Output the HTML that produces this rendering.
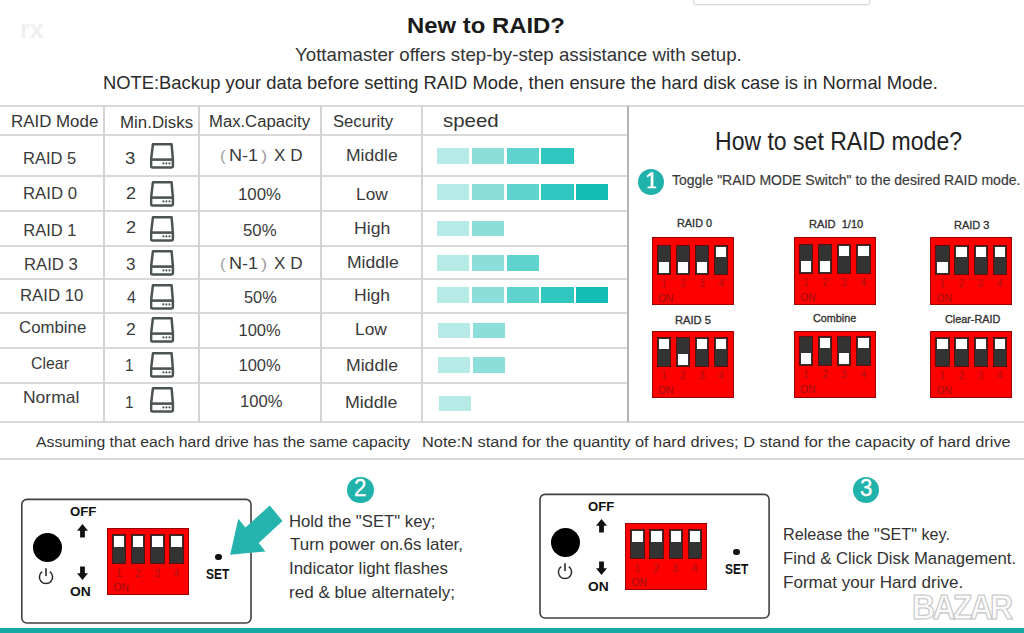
<!DOCTYPE html>
<html><head><meta charset="utf-8"><style>
html,body{margin:0;padding:0;background:#fff;}
body{width:1024px;height:633px;position:relative;overflow:hidden;font-family:"Liberation Sans",sans-serif;}
.a{position:absolute;}
.t{position:absolute;white-space:nowrap;line-height:1;transform-origin:0 0;}
.circ{position:absolute;border-radius:50%;background:#2bb5ad;color:#fff;text-align:center;font-family:"Liberation Sans",sans-serif;}
.dip{position:absolute;box-sizing:border-box;width:82.3px;height:67.6px;background:#ff0000;border:1px solid #9a0000;}
.sw{position:absolute;box-sizing:border-box;width:14.2px;height:30px;background:#333;border:1px solid #5a1010;margin-left:-1px;margin-top:-1px;}
.kn{position:absolute;left:1px;width:10.2px;height:10.6px;background:#fff;}
.kn.up{top:1px;}
.kn.dn{bottom:1px;}
.num{position:absolute;width:10px;text-align:center;font-size:10.3px;line-height:10px;color:#a51515;}
.on{position:absolute;left:5.5px;font-size:10.3px;line-height:10px;color:#9a1212;}
.box{position:absolute;width:227px;height:122px;border:1.5px solid #3a3a3a;border-radius:5px;}
</style></head><body>
<div class="a" style="left:693px;top:-20px;width:175px;height:23px;border:1px solid #d6d6d6;border-radius:3px;box-shadow:0 1px 1px rgba(0,0,0,0.06)"></div>
<div class="t" style="left:20px;top:16.5px;font-size:25px;font-weight:bold;color:#efefef">rx</div>
<div class="a" style="left:0px;top:105px;width:1024px;height:2px;background:#d9d9d9"></div>
<div class="a" style="left:0px;top:134px;width:627px;height:2px;background:#d9d9d9"></div>
<div class="a" style="left:0px;top:175px;width:627px;height:2px;background:#d9d9d9"></div>
<div class="a" style="left:0px;top:210px;width:627px;height:2px;background:#d9d9d9"></div>
<div class="a" style="left:0px;top:245px;width:627px;height:2px;background:#d9d9d9"></div>
<div class="a" style="left:0px;top:278px;width:627px;height:2px;background:#d9d9d9"></div>
<div class="a" style="left:0px;top:312px;width:627px;height:2px;background:#d9d9d9"></div>
<div class="a" style="left:0px;top:347px;width:627px;height:2px;background:#d9d9d9"></div>
<div class="a" style="left:0px;top:382px;width:627px;height:2px;background:#d9d9d9"></div>
<div class="a" style="left:0px;top:421px;width:1024px;height:2px;background:#d9d9d9"></div>
<div class="a" style="left:0px;top:458px;width:1024px;height:2px;background:#d9d9d9"></div>
<div class="a" style="left:103px;top:106px;width:2px;height:316px;background:#d4d4d4"></div>
<div class="a" style="left:198px;top:106px;width:2px;height:316px;background:#d4d4d4"></div>
<div class="a" style="left:320px;top:106px;width:2px;height:316px;background:#d4d4d4"></div>
<div class="a" style="left:421px;top:106px;width:2px;height:316px;background:#d4d4d4"></div>
<div class="a" style="left:627px;top:106px;width:2px;height:316px;background:#b4b4b4"></div>
<svg class="a" style="left:149.5px;top:143.25px" width="25" height="26" viewBox="0 0 25 26"><path d="M2.9 1.3H21.6L22.9 16.6V23.3Q22.9 24.5 21.7 24.5H2.3Q1.1 24.5 1.1 23.3V16.6Z" fill="none" stroke="#4c5453" stroke-width="2.5" stroke-linejoin="round"/><path d="M1.5 16.6H22.5" stroke="#4c5453" stroke-width="2.6"/><circle cx="13.4" cy="20.4" r="1.05" fill="#4c5453"/><circle cx="16.4" cy="20.4" r="1.05" fill="#4c5453"/><circle cx="19.5" cy="20.4" r="1.05" fill="#4c5453"/></svg>
<div class="a" style="left:437.00px;top:148.4px;width:32.3px;height:15.90px;background:#b5eae7"></div><div class="a" style="left:471.80px;top:148.4px;width:32.3px;height:15.90px;background:#8cdedb"></div><div class="a" style="left:506.60px;top:148.4px;width:32.3px;height:15.90px;background:#5fd3ce"></div><div class="a" style="left:541.40px;top:148.4px;width:32.3px;height:15.90px;background:#30c7c1"></div>
<svg class="a" style="left:149.5px;top:180.75px" width="25" height="26" viewBox="0 0 25 26"><path d="M2.9 1.3H21.6L22.9 16.6V23.3Q22.9 24.5 21.7 24.5H2.3Q1.1 24.5 1.1 23.3V16.6Z" fill="none" stroke="#4c5453" stroke-width="2.5" stroke-linejoin="round"/><path d="M1.5 16.6H22.5" stroke="#4c5453" stroke-width="2.6"/><circle cx="13.4" cy="20.4" r="1.05" fill="#4c5453"/><circle cx="16.4" cy="20.4" r="1.05" fill="#4c5453"/><circle cx="19.5" cy="20.4" r="1.05" fill="#4c5453"/></svg>
<div class="a" style="left:437.00px;top:184.4px;width:32.3px;height:15.80px;background:#b5eae7"></div><div class="a" style="left:471.80px;top:184.4px;width:32.3px;height:15.80px;background:#8cdedb"></div><div class="a" style="left:506.60px;top:184.4px;width:32.3px;height:15.80px;background:#5fd3ce"></div><div class="a" style="left:541.40px;top:184.4px;width:32.3px;height:15.80px;background:#30c7c1"></div><div class="a" style="left:576.20px;top:184.4px;width:32.3px;height:15.80px;background:#13bdb6"></div>
<svg class="a" style="left:149.5px;top:215.75px" width="25" height="26" viewBox="0 0 25 26"><path d="M2.9 1.3H21.6L22.9 16.6V23.3Q22.9 24.5 21.7 24.5H2.3Q1.1 24.5 1.1 23.3V16.6Z" fill="none" stroke="#4c5453" stroke-width="2.5" stroke-linejoin="round"/><path d="M1.5 16.6H22.5" stroke="#4c5453" stroke-width="2.6"/><circle cx="13.4" cy="20.4" r="1.05" fill="#4c5453"/><circle cx="16.4" cy="20.4" r="1.05" fill="#4c5453"/><circle cx="19.5" cy="20.4" r="1.05" fill="#4c5453"/></svg>
<div class="a" style="left:437.00px;top:220.6px;width:32.3px;height:15.40px;background:#b5eae7"></div><div class="a" style="left:471.80px;top:220.6px;width:32.3px;height:15.40px;background:#8cdedb"></div>
<svg class="a" style="left:149.5px;top:249.5px" width="25" height="26" viewBox="0 0 25 26"><path d="M2.9 1.3H21.6L22.9 16.6V23.3Q22.9 24.5 21.7 24.5H2.3Q1.1 24.5 1.1 23.3V16.6Z" fill="none" stroke="#4c5453" stroke-width="2.5" stroke-linejoin="round"/><path d="M1.5 16.6H22.5" stroke="#4c5453" stroke-width="2.6"/><circle cx="13.4" cy="20.4" r="1.05" fill="#4c5453"/><circle cx="16.4" cy="20.4" r="1.05" fill="#4c5453"/><circle cx="19.5" cy="20.4" r="1.05" fill="#4c5453"/></svg>
<div class="a" style="left:437.00px;top:255px;width:32.3px;height:16.00px;background:#b5eae7"></div><div class="a" style="left:471.80px;top:255px;width:32.3px;height:16.00px;background:#8cdedb"></div><div class="a" style="left:506.60px;top:255px;width:32.3px;height:16.00px;background:#5fd3ce"></div>
<svg class="a" style="left:149.5px;top:283.5px" width="25" height="26" viewBox="0 0 25 26"><path d="M2.9 1.3H21.6L22.9 16.6V23.3Q22.9 24.5 21.7 24.5H2.3Q1.1 24.5 1.1 23.3V16.6Z" fill="none" stroke="#4c5453" stroke-width="2.5" stroke-linejoin="round"/><path d="M1.5 16.6H22.5" stroke="#4c5453" stroke-width="2.6"/><circle cx="13.4" cy="20.4" r="1.05" fill="#4c5453"/><circle cx="16.4" cy="20.4" r="1.05" fill="#4c5453"/><circle cx="19.5" cy="20.4" r="1.05" fill="#4c5453"/></svg>
<div class="a" style="left:437.00px;top:287.2px;width:32.3px;height:15.50px;background:#b5eae7"></div><div class="a" style="left:471.80px;top:287.2px;width:32.3px;height:15.50px;background:#8cdedb"></div><div class="a" style="left:506.60px;top:287.2px;width:32.3px;height:15.50px;background:#5fd3ce"></div><div class="a" style="left:541.40px;top:287.2px;width:32.3px;height:15.50px;background:#30c7c1"></div><div class="a" style="left:576.20px;top:287.2px;width:32.3px;height:15.50px;background:#13bdb6"></div>
<svg class="a" style="left:149.5px;top:317.0px" width="25" height="26" viewBox="0 0 25 26"><path d="M2.9 1.3H21.6L22.9 16.6V23.3Q22.9 24.5 21.7 24.5H2.3Q1.1 24.5 1.1 23.3V16.6Z" fill="none" stroke="#4c5453" stroke-width="2.5" stroke-linejoin="round"/><path d="M1.5 16.6H22.5" stroke="#4c5453" stroke-width="2.6"/><circle cx="13.4" cy="20.4" r="1.05" fill="#4c5453"/><circle cx="16.4" cy="20.4" r="1.05" fill="#4c5453"/><circle cx="19.5" cy="20.4" r="1.05" fill="#4c5453"/></svg>
<div class="a" style="left:438.00px;top:322.6px;width:32.3px;height:15.90px;background:#b5eae7"></div><div class="a" style="left:472.80px;top:322.6px;width:32.3px;height:15.90px;background:#8cdedb"></div>
<svg class="a" style="left:149.5px;top:351.5px" width="25" height="26" viewBox="0 0 25 26"><path d="M2.9 1.3H21.6L22.9 16.6V23.3Q22.9 24.5 21.7 24.5H2.3Q1.1 24.5 1.1 23.3V16.6Z" fill="none" stroke="#4c5453" stroke-width="2.5" stroke-linejoin="round"/><path d="M1.5 16.6H22.5" stroke="#4c5453" stroke-width="2.6"/><circle cx="13.4" cy="20.4" r="1.05" fill="#4c5453"/><circle cx="16.4" cy="20.4" r="1.05" fill="#4c5453"/><circle cx="19.5" cy="20.4" r="1.05" fill="#4c5453"/></svg>
<div class="a" style="left:438.00px;top:357.3px;width:32.3px;height:15.70px;background:#b5eae7"></div><div class="a" style="left:472.80px;top:357.3px;width:32.3px;height:15.70px;background:#8cdedb"></div>
<svg class="a" style="left:149.5px;top:386.5px" width="25" height="26" viewBox="0 0 25 26"><path d="M2.9 1.3H21.6L22.9 16.6V23.3Q22.9 24.5 21.7 24.5H2.3Q1.1 24.5 1.1 23.3V16.6Z" fill="none" stroke="#4c5453" stroke-width="2.5" stroke-linejoin="round"/><path d="M1.5 16.6H22.5" stroke="#4c5453" stroke-width="2.6"/><circle cx="13.4" cy="20.4" r="1.05" fill="#4c5453"/><circle cx="16.4" cy="20.4" r="1.05" fill="#4c5453"/><circle cx="19.5" cy="20.4" r="1.05" fill="#4c5453"/></svg>
<div class="a" style="left:439.00px;top:395.6px;width:32.3px;height:15.50px;background:#b5eae7"></div>
<div class="a" style="left:637.85px;top:168.85px;width:26.3px;height:26.3px;border-radius:50%;background:#22b2ac"></div>
<div class="a" style="left:347.25px;top:476.85px;width:26.5px;height:26.5px;border-radius:50%;background:#22b2ac"></div>
<div class="a" style="left:853.30px;top:477.00px;width:26px;height:26px;border-radius:50%;background:#22b2ac"></div>
<div class="dip" style="left:651.60px;top:237.30px"><div class="sw" style="left:5.30px;top:7.50px"><div class="kn dn"></div></div><div class="num" style="left:6.20px;top:41.10px">1</div><div class="sw" style="left:24.40px;top:7.50px"><div class="kn dn"></div></div><div class="num" style="left:25.30px;top:41.10px">2</div><div class="sw" style="left:43.50px;top:7.50px"><div class="kn dn"></div></div><div class="num" style="left:44.40px;top:41.10px">3</div><div class="sw" style="left:62.60px;top:7.50px"><div class="kn up"></div></div><div class="num" style="left:63.50px;top:41.10px">4</div><div class="on" style="top:55.70px">ON</div></div>
<div class="dip" style="left:793.80px;top:237.30px"><div class="sw" style="left:5.30px;top:6.50px"><div class="kn dn"></div></div><div class="num" style="left:6.20px;top:40.10px">1</div><div class="sw" style="left:24.40px;top:6.50px"><div class="kn dn"></div></div><div class="num" style="left:25.30px;top:40.10px">2</div><div class="sw" style="left:43.50px;top:6.50px"><div class="kn up"></div></div><div class="num" style="left:44.40px;top:40.10px">3</div><div class="sw" style="left:62.60px;top:6.50px"><div class="kn up"></div></div><div class="num" style="left:63.50px;top:40.10px">4</div><div class="on" style="top:54.70px">ON</div></div>
<div class="dip" style="left:930.10px;top:237.30px"><div class="sw" style="left:5.30px;top:7.50px"><div class="kn dn"></div></div><div class="num" style="left:6.20px;top:41.10px">1</div><div class="sw" style="left:24.40px;top:7.50px"><div class="kn up"></div></div><div class="num" style="left:25.30px;top:41.10px">2</div><div class="sw" style="left:43.50px;top:7.50px"><div class="kn up"></div></div><div class="num" style="left:44.40px;top:41.10px">3</div><div class="sw" style="left:62.60px;top:7.50px"><div class="kn up"></div></div><div class="num" style="left:63.50px;top:41.10px">4</div><div class="on" style="top:55.70px">ON</div></div>
<div class="dip" style="left:651.60px;top:330.70px"><div class="sw" style="left:5.30px;top:6.20px"><div class="kn up"></div></div><div class="num" style="left:6.20px;top:39.80px">1</div><div class="sw" style="left:24.40px;top:6.20px"><div class="kn dn"></div></div><div class="num" style="left:25.30px;top:39.80px">2</div><div class="sw" style="left:43.50px;top:6.20px"><div class="kn up"></div></div><div class="num" style="left:44.40px;top:39.80px">3</div><div class="sw" style="left:62.60px;top:6.20px"><div class="kn up"></div></div><div class="num" style="left:63.50px;top:39.80px">4</div><div class="on" style="top:54.40px">ON</div></div>
<div class="dip" style="left:793.80px;top:330.70px"><div class="sw" style="left:5.30px;top:5.00px"><div class="kn dn"></div></div><div class="num" style="left:6.20px;top:38.60px">1</div><div class="sw" style="left:24.40px;top:5.00px"><div class="kn up"></div></div><div class="num" style="left:25.30px;top:38.60px">2</div><div class="sw" style="left:43.50px;top:5.00px"><div class="kn dn"></div></div><div class="num" style="left:44.40px;top:38.60px">3</div><div class="sw" style="left:62.60px;top:5.00px"><div class="kn up"></div></div><div class="num" style="left:63.50px;top:38.60px">4</div><div class="on" style="top:53.20px">ON</div></div>
<div class="dip" style="left:930.10px;top:330.70px"><div class="sw" style="left:5.30px;top:6.20px"><div class="kn up"></div></div><div class="num" style="left:6.20px;top:39.80px">1</div><div class="sw" style="left:24.40px;top:6.20px"><div class="kn up"></div></div><div class="num" style="left:25.30px;top:39.80px">2</div><div class="sw" style="left:43.50px;top:6.20px"><div class="kn up"></div></div><div class="num" style="left:44.40px;top:39.80px">3</div><div class="sw" style="left:62.60px;top:6.20px"><div class="kn up"></div></div><div class="num" style="left:63.50px;top:39.80px">4</div><div class="on" style="top:54.40px">ON</div></div>
<div class="a" style="left:32.9px;top:532.7px;width:29px;height:29px;border-radius:50%;background:#000"></div>
<svg class="a" style="left:37.4px;top:566.5px" width="18" height="18" viewBox="0 0 18 18"><path d="M5.2 4.6A6.6 6.6 0 1 0 12.8 4.6" fill="none" stroke="#2a2a2a" stroke-width="1.5"/><path d="M9 1.2V9" stroke="#2a2a2a" stroke-width="1.6"/></svg>
<svg class="a" style="left:77.4px;top:524.0px" width="11" height="14" viewBox="0 0 11 14"><path d="M5.5 0L11 6.8H7.9V13.5H3.1V6.8H0Z" fill="#111"/></svg>
<svg class="a" style="left:77.4px;top:566.0px" width="11" height="14" viewBox="0 0 11 14"><path d="M5.5 14L11 7.2H7.9V0.5H3.1V7.2H0Z" fill="#111"/></svg>
<div class="dip" style="left:106.90px;top:527.90px"><div class="sw" style="left:5.30px;top:6.30px"><div class="kn up"></div></div><div class="num" style="left:6.20px;top:39.90px">1</div><div class="sw" style="left:24.40px;top:6.30px"><div class="kn up"></div></div><div class="num" style="left:25.30px;top:39.90px">2</div><div class="sw" style="left:43.50px;top:6.30px"><div class="kn up"></div></div><div class="num" style="left:44.40px;top:39.90px">3</div><div class="sw" style="left:62.60px;top:6.30px"><div class="kn up"></div></div><div class="num" style="left:63.50px;top:39.90px">4</div><div class="on" style="top:54.50px">ON</div></div>
<div class="a" style="left:215.10px;top:553.90px;width:6.6px;height:6.6px;border-radius:50%;background:#111"></div>
<div class="a" style="left:551.1px;top:527.7px;width:29px;height:29px;border-radius:50%;background:#000"></div>
<svg class="a" style="left:555.6px;top:561.5px" width="18" height="18" viewBox="0 0 18 18"><path d="M5.2 4.6A6.6 6.6 0 1 0 12.8 4.6" fill="none" stroke="#2a2a2a" stroke-width="1.5"/><path d="M9 1.2V9" stroke="#2a2a2a" stroke-width="1.6"/></svg>
<svg class="a" style="left:595.6px;top:519.0px" width="11" height="14" viewBox="0 0 11 14"><path d="M5.5 0L11 6.8H7.9V13.5H3.1V6.8H0Z" fill="#111"/></svg>
<svg class="a" style="left:595.6px;top:561.0px" width="11" height="14" viewBox="0 0 11 14"><path d="M5.5 14L11 7.2H7.9V0.5H3.1V7.2H0Z" fill="#111"/></svg>
<div class="dip" style="left:625.10px;top:522.90px"><div class="sw" style="left:5.30px;top:6.30px"><div class="kn up"></div></div><div class="num" style="left:6.20px;top:39.90px">1</div><div class="sw" style="left:24.40px;top:6.30px"><div class="kn up"></div></div><div class="num" style="left:25.30px;top:39.90px">2</div><div class="sw" style="left:43.50px;top:6.30px"><div class="kn up"></div></div><div class="num" style="left:44.40px;top:39.90px">3</div><div class="sw" style="left:62.60px;top:6.30px"><div class="kn up"></div></div><div class="num" style="left:63.50px;top:39.90px">4</div><div class="on" style="top:54.50px">ON</div></div>
<div class="a" style="left:733.30px;top:548.90px;width:6.6px;height:6.6px;border-radius:50%;background:#111"></div>
<svg class="a" style="left:0;top:0" width="1024" height="633" viewBox="0 0 1024 633"><path d="M650.7 172.3H653.4V186.5H656.2V188.2H647.6V186.5H650.7V175.3L647.4 177.5L646.5 176Z" fill="#fff"/></svg>
<svg class="a" style="left:0;top:0" width="1024" height="633" viewBox="0 0 1024 633"><rect x="21.8" y="499.4" width="229.2" height="123.6" rx="5" fill="none" stroke="#404040" stroke-width="1.6"/><rect x="540" y="494.4" width="229.1" height="123.6" rx="5" fill="none" stroke="#404040" stroke-width="1.6"/></svg>
<svg class="a" style="left:0;top:0" width="1024" height="633" viewBox="0 0 1024 633"><path d="M230.2 554.7L238.3 518.8L245.4 527.6L269.8 505.5L282.5 521L258.7 543.1L265.4 551.4Z" fill="#25b3ad"/></svg>
<div class="a" style="left:0;top:627.6px;width:1024px;height:6px;background:#17aaa5"></div>
<div class="t" style="left:407.39px;top:16.30px;font-size:21.5px;font-weight:bold;color:#1a1a1a;transform:scaleX(1.1107);">New to RAID?</div>
<div class="t" style="left:294.97px;top:45.59px;font-size:18.2px;font-weight:normal;color:#333;transform:scaleX(1.0278);">Yottamaster offers step-by-step assistance with setup.</div>
<div class="t" style="left:102.76px;top:73.85px;font-size:18.6px;font-weight:normal;color:#2a2a2a;transform:scaleX(0.9875);">NOTE:Backup your data before setting RAID Mode, then ensure the hard disk case is in Normal Mode.</div>
<div class="t" style="left:10.94px;top:114.45px;font-size:16px;font-weight:normal;color:#333;transform:scaleX(1.0556);">RAID Mode</div>
<div class="t" style="left:119.69px;top:114.65px;font-size:16px;font-weight:normal;color:#333;transform:scaleX(1.0551);">Min.Disks</div>
<div class="t" style="left:209.46px;top:113.95px;font-size:16px;font-weight:normal;color:#333;transform:scaleX(1.0417);">Max.Capacity</div>
<div class="t" style="left:333.46px;top:114.45px;font-size:16px;font-weight:normal;color:#333;transform:scaleX(1.0395);">Security</div>
<div class="t" style="left:442.68px;top:111.21px;font-size:19px;font-weight:normal;color:#333;transform:scaleX(1.0750);">speed</div>
<div class="t" style="left:23.00px;top:149.53px;font-size:16.5px;font-weight:normal;color:#3a3a3a;transform:scaleX(1.0000);">RAID 5</div>
<div class="t" style="left:124.88px;top:149.53px;font-size:16.5px;font-weight:normal;color:#3a3a3a;transform:scaleX(1.1250);">3</div>
<div class="t" style="left:220.00px;top:149.45px;font-size:14px;font-weight:normal;color:#a0a0a0;transform:scaleX(1.2000);">(</div>
<div class="t" style="left:229.40px;top:147.03px;font-size:16.5px;font-weight:normal;color:#3a3a3a;transform:scaleX(1.0960);">N-1</div>
<div class="t" style="left:261.30px;top:149.45px;font-size:14px;font-weight:normal;color:#a0a0a0;transform:scaleX(1.3250);">)</div>
<div class="t" style="left:274.37px;top:147.03px;font-size:16.5px;font-weight:normal;color:#3a3a3a;transform:scaleX(1.0346);">X D</div>
<div class="t" style="left:346.44px;top:146.78px;font-size:16.5px;font-weight:normal;color:#3a3a3a;transform:scaleX(1.0638);">Middle</div>
<div class="t" style="left:23.24px;top:185.28px;font-size:16.5px;font-weight:normal;color:#3a3a3a;transform:scaleX(1.0144);">RAID 0</div>
<div class="t" style="left:125.91px;top:185.28px;font-size:16.5px;font-weight:normal;color:#3a3a3a;transform:scaleX(1.0938);">2</div>
<div class="t" style="left:237.73px;top:186.03px;font-size:16.5px;font-weight:normal;color:#3a3a3a;transform:scaleX(1.0183);">100%</div>
<div class="t" style="left:355.95px;top:185.53px;font-size:16.5px;font-weight:normal;color:#3a3a3a;transform:scaleX(1.0517);">Low</div>
<div class="t" style="left:23.25px;top:221.53px;font-size:16.5px;font-weight:normal;color:#3a3a3a;transform:scaleX(1.0000);">RAID 1</div>
<div class="t" style="left:125.91px;top:218.53px;font-size:16.5px;font-weight:normal;color:#3a3a3a;transform:scaleX(1.0938);">2</div>
<div class="t" style="left:242.73px;top:221.53px;font-size:16.5px;font-weight:normal;color:#3a3a3a;transform:scaleX(1.0156);">50%</div>
<div class="t" style="left:353.93px;top:219.78px;font-size:16.5px;font-weight:normal;color:#3a3a3a;transform:scaleX(1.0703);">High</div>
<div class="t" style="left:23.99px;top:256.03px;font-size:16.5px;font-weight:normal;color:#3a3a3a;transform:scaleX(1.0096);">RAID 3</div>
<div class="t" style="left:126.47px;top:256.03px;font-size:16.5px;font-weight:normal;color:#3a3a3a;transform:scaleX(1.0312);">3</div>
<div class="t" style="left:220.00px;top:257.20px;font-size:14px;font-weight:normal;color:#a0a0a0;transform:scaleX(1.2000);">(</div>
<div class="t" style="left:229.40px;top:254.78px;font-size:16.5px;font-weight:normal;color:#3a3a3a;transform:scaleX(1.0960);">N-1</div>
<div class="t" style="left:261.30px;top:257.20px;font-size:14px;font-weight:normal;color:#a0a0a0;transform:scaleX(1.3250);">)</div>
<div class="t" style="left:274.37px;top:254.78px;font-size:16.5px;font-weight:normal;color:#3a3a3a;transform:scaleX(1.0346);">X D</div>
<div class="t" style="left:346.94px;top:254.03px;font-size:16.5px;font-weight:normal;color:#3a3a3a;transform:scaleX(1.0638);">Middle</div>
<div class="t" style="left:20.23px;top:287.28px;font-size:16.5px;font-weight:normal;color:#3a3a3a;transform:scaleX(1.0164);">RAID 10</div>
<div class="t" style="left:127.00px;top:288.53px;font-size:16.5px;font-weight:normal;color:#3a3a3a;transform:scaleX(0.9722);">4</div>
<div class="t" style="left:243.51px;top:288.53px;font-size:16.5px;font-weight:normal;color:#3a3a3a;transform:scaleX(0.9922);">50%</div>
<div class="t" style="left:354.44px;top:287.28px;font-size:16.5px;font-weight:normal;color:#3a3a3a;transform:scaleX(1.0625);">High</div>
<div class="t" style="left:19.48px;top:318.53px;font-size:16.5px;font-weight:normal;color:#3a3a3a;transform:scaleX(1.0195);">Combine</div>
<div class="t" style="left:125.94px;top:320.53px;font-size:16.5px;font-weight:normal;color:#3a3a3a;transform:scaleX(1.0625);">2</div>
<div class="t" style="left:238.50px;top:322.28px;font-size:16.5px;font-weight:normal;color:#3a3a3a;transform:scaleX(1.0000);">100%</div>
<div class="t" style="left:355.20px;top:321.03px;font-size:16.5px;font-weight:normal;color:#3a3a3a;transform:scaleX(1.0517);">Low</div>
<div class="t" style="left:31.04px;top:355.03px;font-size:16.5px;font-weight:normal;color:#3a3a3a;transform:scaleX(0.9615);">Clear</div>
<div class="t" style="left:125.31px;top:357.28px;font-size:16.5px;font-weight:normal;color:#3a3a3a;transform:scaleX(0.9375);">1</div>
<div class="t" style="left:238.50px;top:357.28px;font-size:16.5px;font-weight:normal;color:#3a3a3a;transform:scaleX(1.0000);">100%</div>
<div class="t" style="left:345.68px;top:356.53px;font-size:16.5px;font-weight:normal;color:#3a3a3a;transform:scaleX(1.0691);">Middle</div>
<div class="t" style="left:23.19px;top:388.53px;font-size:16.5px;font-weight:normal;color:#3a3a3a;transform:scaleX(1.0588);">Normal</div>
<div class="t" style="left:125.31px;top:393.53px;font-size:16.5px;font-weight:normal;color:#3a3a3a;transform:scaleX(0.9375);">1</div>
<div class="t" style="left:239.74px;top:393.03px;font-size:16.5px;font-weight:normal;color:#3a3a3a;transform:scaleX(1.0061);">100%</div>
<div class="t" style="left:345.17px;top:393.53px;font-size:16.5px;font-weight:normal;color:#3a3a3a;transform:scaleX(1.0798);">Middle</div>
<div class="t" style="left:714.66px;top:128.58px;font-size:25px;font-weight:normal;color:#222;transform:scaleX(0.9211);">How to set RAID mode?</div>
<div class="t" style="left:671.80px;top:173.27px;font-size:14.8px;font-weight:normal;color:#3a3a3a;transform:scaleX(0.9460);-webkit-text-stroke:0.2px #3a3a3a;">Toggle "RAID MODE Switch" to the desired RAID mode.</div>
<div class="t" style="left:35.50px;top:433.95px;font-size:15.3px;font-weight:normal;color:#333;transform:scaleX(1.0303);">Assuming that each hard drive has the same capacity</div>
<div class="t" style="left:421.93px;top:433.95px;font-size:15.3px;font-weight:normal;color:#333;transform:scaleX(1.0701);">Note:N stand for the quantity of hard drives; D stand for the capacity of hard drive</div>
<div class="t" style="left:676.86px;top:217.18px;font-size:11.6px;font-weight:normal;color:#333;transform:scaleX(0.9389);-webkit-text-stroke:0.35px #333;">RAID 0</div>
<div class="t" style="left:808.84px;top:217.78px;font-size:11.6px;font-weight:normal;color:#333;transform:scaleX(0.9571);white-space:pre;-webkit-text-stroke:0.35px #333;">RAID  1/10</div>
<div class="t" style="left:954.05px;top:218.98px;font-size:11.6px;font-weight:normal;color:#333;transform:scaleX(0.9500);-webkit-text-stroke:0.35px #333;">RAID 3</div>
<div class="t" style="left:674.74px;top:313.78px;font-size:11.6px;font-weight:normal;color:#333;transform:scaleX(0.9611);-webkit-text-stroke:0.35px #333;">RAID 5</div>
<div class="t" style="left:812.70px;top:312.38px;font-size:11.6px;font-weight:normal;color:#333;transform:scaleX(0.9326);-webkit-text-stroke:0.35px #333;">Combine</div>
<div class="t" style="left:944.70px;top:312.88px;font-size:11.6px;font-weight:normal;color:#333;transform:scaleX(0.9322);-webkit-text-stroke:0.35px #333;">Clear-RAID</div>
<div class="t" style="left:289.22px;top:512.51px;font-size:17px;font-weight:normal;color:#333;transform:scaleX(0.9823);">Hold the "SET" key;</div>
<div class="t" style="left:290.20px;top:536.31px;font-size:17px;font-weight:normal;color:#333;transform:scaleX(0.9988);">Turn power on.6s later,</div>
<div class="t" style="left:289.20px;top:560.31px;font-size:17px;font-weight:normal;color:#333;transform:scaleX(0.9956);">Indicator light flashes</div>
<div class="t" style="left:289.20px;top:584.11px;font-size:17px;font-weight:normal;color:#333;transform:scaleX(1.0037);">red &amp; blue alternately;</div>
<div class="t" style="left:783.25px;top:525.61px;font-size:17px;font-weight:normal;color:#333;transform:scaleX(0.9526);">Release the "SET" key.</div>
<div class="t" style="left:783.22px;top:549.61px;font-size:17px;font-weight:normal;color:#333;transform:scaleX(0.9830);">Find &amp; Click Disk Management.</div>
<div class="t" style="left:783.20px;top:573.61px;font-size:17px;font-weight:normal;color:#333;transform:scaleX(1.0040);">Format your Hard drive.</div>
<div class="t" style="left:354.23px;top:476.93px;font-size:23px;font-weight:normal;color:#fff;transform:scaleX(0.9727);-webkit-text-stroke:0.3px #fff;">2</div>
<div class="t" style="left:860.14px;top:476.73px;font-size:23px;font-weight:normal;color:#fff;transform:scaleX(0.9636);-webkit-text-stroke:0.3px #fff;">3</div>
<div class="t" style="left:912.17px;top:589.37px;font-size:35px;font-weight:bold;color:#fafafa;transform:scaleX(0.9159);-webkit-text-stroke:1.1px #c4c4c4;letter-spacing:-3px;">BAZAR</div>
<div class="t" style="left:69.70px;top:506.13px;font-size:12.6px;font-weight:bold;color:#111;transform:scaleX(1.0440);">OFF</div>
<div class="t" style="left:70.20px;top:584.85px;font-size:13.4px;font-weight:bold;color:#111;transform:scaleX(1.0300);">ON</div>
<div class="t" style="left:206.30px;top:567.82px;font-size:13.8px;font-weight:bold;color:#111;transform:scaleX(0.8667);">SET</div>
<div class="t" style="left:587.90px;top:501.13px;font-size:12.6px;font-weight:bold;color:#111;transform:scaleX(1.0440);">OFF</div>
<div class="t" style="left:588.40px;top:579.85px;font-size:13.4px;font-weight:bold;color:#111;transform:scaleX(1.0300);">ON</div>
<div class="t" style="left:724.50px;top:562.82px;font-size:13.8px;font-weight:bold;color:#111;transform:scaleX(0.8667);">SET</div>
</body></html>
